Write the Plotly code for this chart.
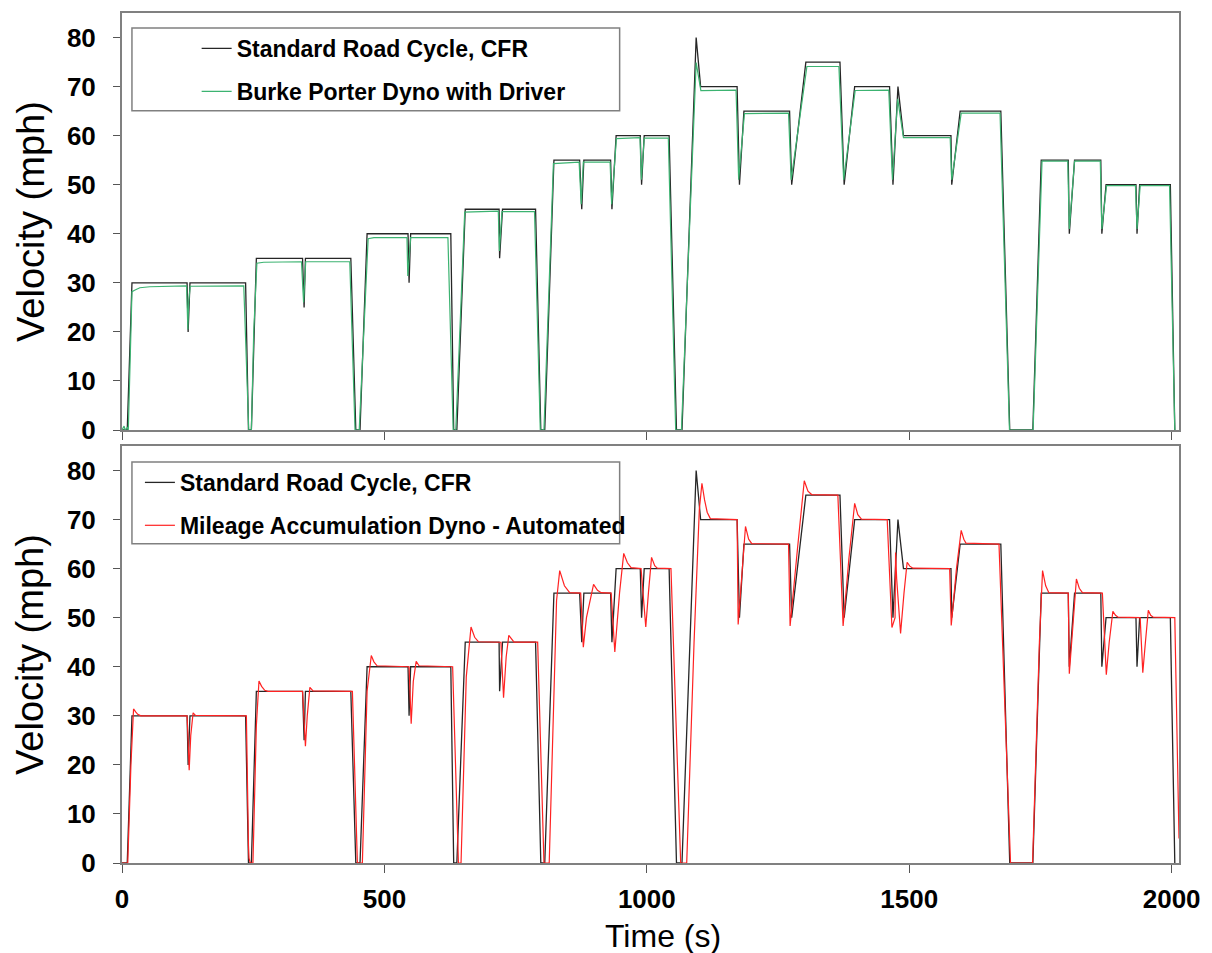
import plotly.graph_objects as go

# ---- Standard Road Cycle (CFR) target trace: time (s) / speed (mph) ----
std_time = [
    0, 10, 19, 124, 126, 129.5, 235.5, 241, 246.5,
    256, 344, 347, 349.5, 436, 445.5, 453.5,
    467, 545, 547, 550, 626.5, 632, 638,
    654, 718.5, 719.5, 725, 788, 798, 805.5,
    823, 872, 876, 880, 931, 933.5,
    941.5, 987.5, 990, 995, 1042.5, 1056.5, 1067, 1068,
    1094, 1102.5, 1172, 1176.5, 1185, 1272, 1276, 1303, 1368, 1376, 1396,
    1462.5, 1469, 1478.5, 1489, 1579.5, 1581, 1597, 1674.5, 1691.5, 1735.5,
    1751.5, 1803, 1805, 1815, 1865, 1867, 1875, 1932, 1934, 1939, 1997.5, 2006,
]
std_speed = [
    0, 0, 30, 30, 20, 30, 30, 0, 0,
    35, 35, 25, 35, 35, 0, 0,
    40, 40, 30, 40, 40, 0, 0,
    45, 45, 35, 45, 45, 0, 0,
    55, 55, 45, 55, 55, 45,
    60, 60, 50, 60, 60, 0, 0, 3,
    80, 70, 70, 50, 65, 65, 50, 75, 75, 50, 70,
    70, 50, 70, 60, 60, 50, 65, 65, 0, 0,
    55, 55, 40, 55, 55, 40, 50, 50, 40, 50, 50, 0,
]

# ---- Burke Porter dyno, human driver ----
dyno_time = [
    0, 4, 6, 10, 12, 19, 24, 34, 53, 123, 125.5, 127, 130, 232, 241.5, 246.5,
    251, 257, 270, 342, 346, 350, 434, 444, 452,
    469, 480, 543, 544.5, 550, 621, 631, 636,
    653, 717, 719, 724, 786, 797, 804,
    822, 871, 875, 879, 930, 933,
    942, 987, 989.5, 995, 1041, 1055, 1066, 1080,
    1094, 1103, 1170, 1175, 1186, 1270, 1275, 1305, 1366, 1375, 1397,
    1461, 1468, 1478, 1489, 1578, 1581, 1599, 1673, 1691, 1736,
    1753, 1802, 1805, 1815, 1864, 1867, 1876, 1931, 1934, 1940, 1996, 2006,
]
dyno_speed = [
    0, 0.8, 0, 0.5, 0, 28.2, 28.5, 29.0, 29.2, 29.4, 20.5, 26, 29.3, 29.4, 0, 0,
    20, 34.0, 34.2, 34.3, 26, 34.3, 34.3, 0, 0,
    39.0, 39.2, 39.2, 31.4, 39.2, 39.2, 0, 0,
    44.4, 44.6, 36.5, 44.5, 44.5, 0, 0,
    54.3, 54.6, 46, 54.6, 54.6, 46,
    59.4, 59.6, 51, 59.5, 59.5, 0, 0, 37,
    74.9, 69.2, 69.3, 51, 64.5, 64.6, 51, 74.1, 74.1, 51, 69.2,
    69.3, 51, 67.5, 59.6, 59.6, 51, 64.6, 64.6, 0, 0,
    54.8, 54.8, 41, 54.8, 54.8, 41, 49.8, 49.8, 41, 49.8, 49.8, 0,
]

# ---- Mileage accumulation dyno, automated driver ----
auto_time = [
    0, 11, 17, 22, 26, 30, 36, 124, 126, 128, 131, 135.5, 140, 237, 241, 242, 244.5, 249.5,
    256, 261, 266, 272, 278, 344, 346, 349.5, 353, 358, 364, 439, 448.5, 458,
    467, 475, 480, 486, 547, 551, 555, 560.5, 566, 630, 641, 646,
    656, 665, 672, 679, 722, 727, 732, 737, 747, 792, 804, 814,
    828, 834, 843, 853, 874, 879, 885, 898.5, 906, 913, 932, 939,
    948, 956, 963, 970, 989, 998, 1003, 1009, 1015, 1020, 1046, 1064.5, 1076,
    1090, 1100, 1105, 1110, 1115, 1121, 1172, 1174, 1181, 1188, 1194, 1200, 1270, 1273,
    1287, 1300, 1307, 1314, 1364, 1374, 1385, 1396, 1402, 1409, 1458, 1467,
    1473, 1474, 1476, 1483.5, 1490, 1496, 1501, 1507, 1577, 1580, 1590, 1599, 1604, 1608,
    1671, 1689, 1690, 1693, 1735, 1748, 1754, 1760, 1766, 1803, 1805, 1811, 1818.5, 1824, 1830,
    1868, 1875.5, 1881, 1888, 1893, 1898, 1940, 1945, 1950, 1955.5, 1960, 1965, 2006, 2014,
]
auto_speed = [
    0, 0, 20, 31.4, 30.8, 30.3, 30.0, 30.0, 25, 18.9, 26, 30.6, 30.1, 30, 3.5, 1, 0, 0,
    28, 37.1, 36, 35.2, 35.0, 35, 31, 23.8, 30, 35.8, 35.1, 35, 0, 0,
    35, 42.3, 41, 40.2, 40, 28.4, 37, 41.1, 40.2, 40, 0, 0,
    38, 48.1, 46, 45.1, 45, 33.7, 42, 46.4, 45.0, 45, 0, 0,
    53.5, 59.6, 56.5, 55.1, 55, 44, 50, 56.8, 55.6, 55.1, 55, 43,
    55, 63.1, 61.2, 60.2, 60, 48.1, 55, 62.3, 60.6, 60.1, 60, 0, 0,
    45, 72, 77.4, 74, 71.5, 70.2, 70, 48.6, 58, 68.6, 66, 65.1, 65, 48.3,
    64, 77.9, 75.8, 75.1, 75, 48.3, 62, 73.3, 71, 70.1, 70, 48,
    50, 63.3, 58, 46.8, 55, 61.3, 60.5, 60.1, 60, 48.4, 60, 67.8, 66, 65.2,
    65, 8.7, 5, 0, 0, 45, 59.6, 56.5, 55.1, 55, 38.6, 48, 57.9, 56, 55.1,
    55, 38.4, 45, 51.3, 50.5, 50.1, 50, 38.8, 45, 51.5, 50.5, 50.1, 50, 5,
]

assert len(std_time) == len(std_speed)
assert len(dyno_time) == len(dyno_speed)
assert len(auto_time) == len(auto_speed)

x_ticks = [0, 500, 1000, 1500, 2000]
y_ticks = [0, 10, 20, 30, 40, 50, 60, 70, 80]

FONT = "Arial, Liberation Sans, sans-serif"
FRAME = "#808080"
W, H = 1212, 953
ML, MR, MT, MB = 122, 28, 11, 90
PW, PH = W - ML - MR, H - MT - MB


def px_x(px):
    return (px - ML) / PW


def px_y(py):
    return (H - MB - py) / PH


top_dom = [px_y(429), 1.0]
bot_dom = [0.0, px_y(445)]

fig = go.Figure()
fig.add_trace(go.Scatter(x=std_time, y=std_speed, mode="lines",
                         name="Standard Road Cycle, CFR",
                         line=dict(color="#262626", width=1.3),
                         xaxis="x", yaxis="y", legend="legend", legendgroup="a"))
fig.add_trace(go.Scatter(x=dyno_time, y=dyno_speed, mode="lines",
                         name="Burke Porter Dyno with Driver",
                         line=dict(color="#3cb371", width=1.2),
                         xaxis="x", yaxis="y", legend="legend", legendgroup="b"))
fig.add_trace(go.Scatter(x=std_time, y=std_speed, mode="lines",
                         name="Standard Road Cycle, CFR",
                         line=dict(color="#262626", width=1.3),
                         xaxis="x2", yaxis="y2", legend="legend2", legendgroup="c"))
fig.add_trace(go.Scatter(x=auto_time, y=auto_speed, mode="lines",
                         name="Mileage Accumulation Dyno - Automated",
                         line=dict(color="#ff2222", width=1.2),
                         xaxis="x2", yaxis="y2", legend="legend2", legendgroup="d"))

tick_font = dict(family=FONT, size=26, color="black", weight="bold")
common_x = dict(range=[0, 2014], tickvals=x_ticks, ticks="outside", ticklen=8,
                tickcolor="#555555", tickwidth=1.3, showline=True, linecolor=FRAME,
                linewidth=2, mirror=True, showgrid=False, zeroline=False,
                tickfont=tick_font, ticklabelstandoff=4)
common_y = dict(range=[0, 85], tickvals=y_ticks, ticks="outside", ticklen=7,
                tickcolor="#555555", tickwidth=1.3, showline=True, linecolor=FRAME,
                linewidth=2, mirror=True, showgrid=False, zeroline=False,
                tickfont=tick_font, ticklabelstandoff=12)

legend_common = dict(xanchor="left", yanchor="top", bgcolor="rgba(0,0,0,0)",
                     borderwidth=0, tracegroupgap=10, itemwidth=30,
                     font=dict(family=FONT, size=23, color="black", weight="bold"))

fig.update_layout(
    width=W, height=H,
    margin=dict(l=ML, r=MR, t=MT, b=MB),
    paper_bgcolor="white", plot_bgcolor="white",
    font=dict(family=FONT, color="black"),
    xaxis=dict(domain=[0, 1], anchor="y", showticklabels=False, **common_x),
    yaxis=dict(domain=top_dom, anchor="x", **common_y),
    xaxis2=dict(domain=[0, 1], anchor="y2", **common_x),
    yaxis2=dict(domain=bot_dom, anchor="x2", **common_y),
    legend=dict(x=px_x(197), y=px_y(25), **legend_common),
    legend2=dict(x=px_x(140), y=px_y(460), **legend_common),
    shapes=[
        dict(type="rect", xref="paper", yref="paper", layer="below",
             x0=px_x(132), x1=px_x(622), y0=px_y(109), y1=px_y(26),
             line=dict(color=FRAME, width=1.5), fillcolor="white"),
        dict(type="rect", xref="paper", yref="paper", layer="below",
             x0=px_x(132), x1=px_x(622), y0=px_y(543), y1=px_y(461),
             line=dict(color=FRAME, width=1.5), fillcolor="white"),
    ],
    annotations=[
        dict(text="Velocity (mph)", textangle=-90, xref="paper", yref="paper",
             x=px_x(30), y=sum(top_dom) / 2, xanchor="center", yanchor="middle",
             showarrow=False, font=dict(family=FONT, size=38, color="black")),
        dict(text="Velocity (mph)", textangle=-90, xref="paper", yref="paper",
             x=px_x(30), y=sum(bot_dom) / 2, xanchor="center", yanchor="middle",
             showarrow=False, font=dict(family=FONT, size=38, color="black")),
        dict(text="Time (s)", xref="paper", yref="paper",
             x=px_x(666), y=px_y(936), xanchor="center", yanchor="middle",
             showarrow=False, font=dict(family=FONT, size=32, color="black")),
    ],
)

fig.write_html("out.html")
